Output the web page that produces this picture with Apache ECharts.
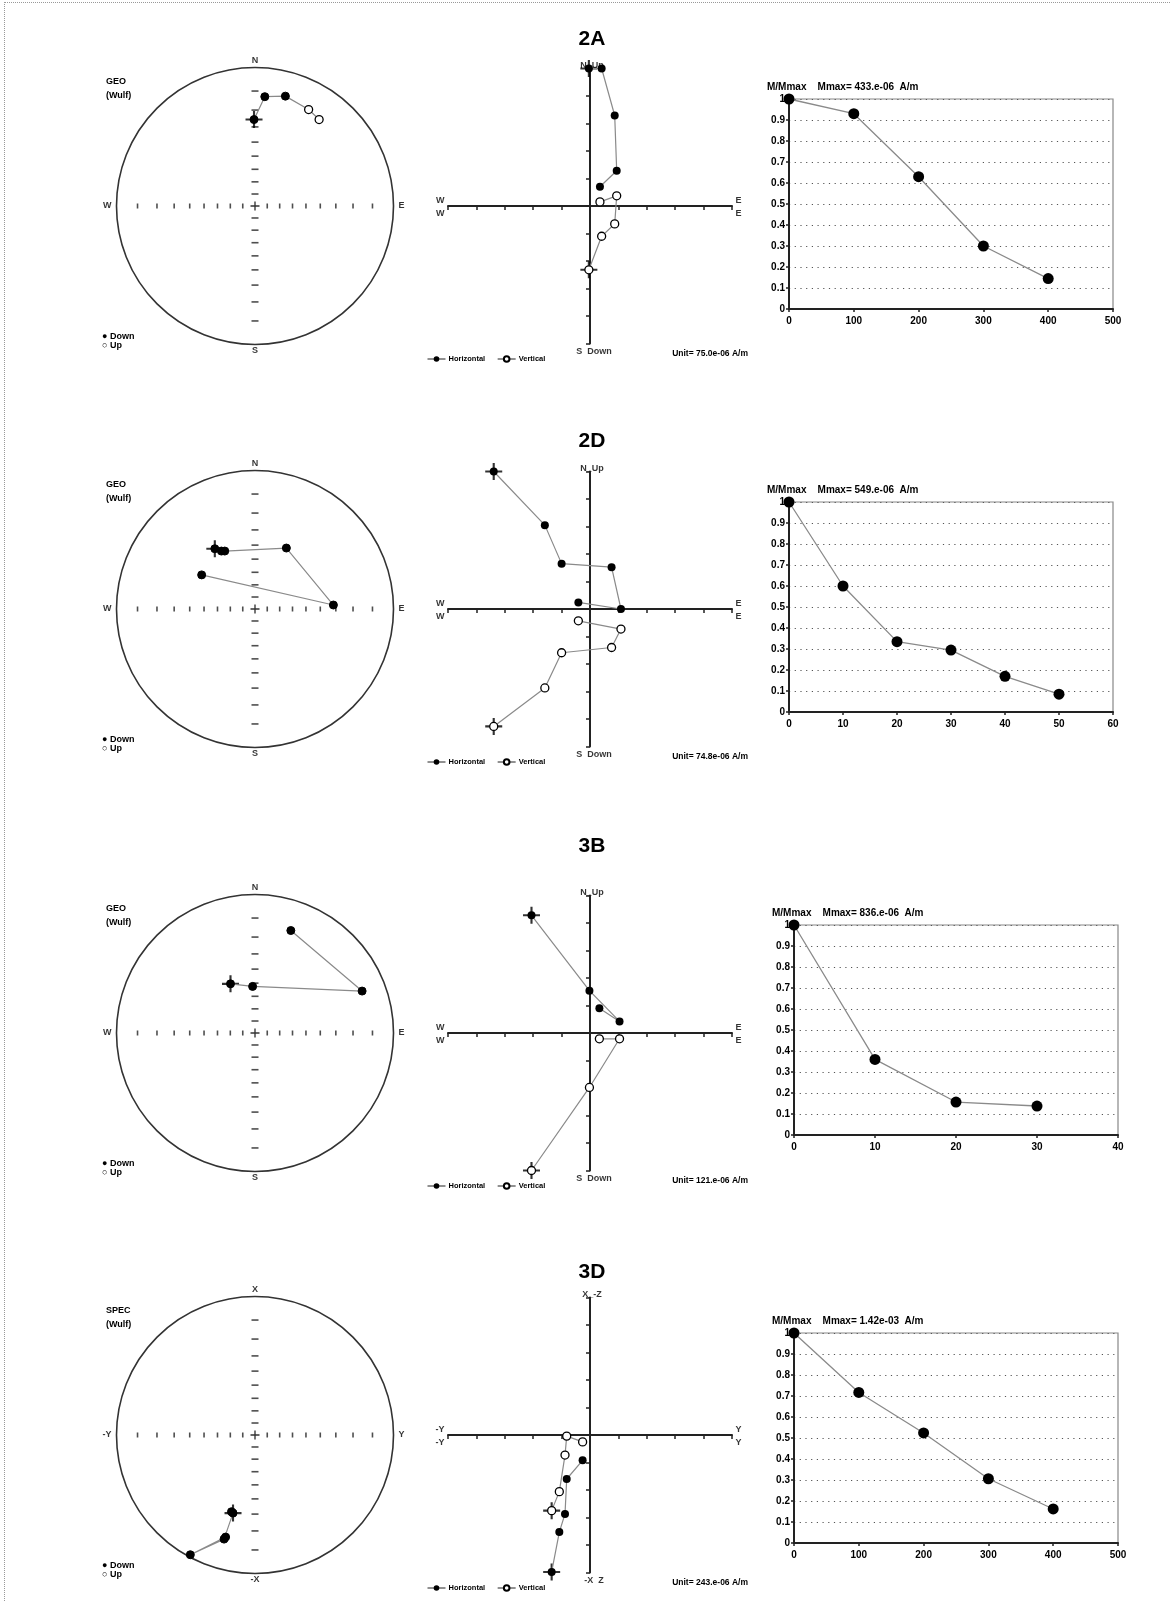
<!DOCTYPE html>
<html>
<head>
<meta charset="utf-8">
<script src="https://cdn.jsdelivr.net/npm/echarts@6/dist/echarts.min.js"></script>
<style>
  html, body { margin: 0; padding: 0; background: #fff; }
  #main { width: 1171px; height: 1602px; }
  #edge { position: absolute; left: 4px; top: 2px; width: 1167px; height: 1600px;
          border-left: 1px dotted #999; border-top: 1px dotted #999; pointer-events: none; }
</style>
</head>
<body>
<div id="main"></div>
<div id="edge"></div>
<script>
// ---- labels ----
const sampleNames = ['2A', '2D', '3B', '3D'];
const frameNames = ['GEO', 'GEO', 'GEO', 'SPEC'];
const netAxisNames = [['N', 'S', 'W', 'E'], ['N', 'S', 'W', 'E'], ['N', 'S', 'W', 'E'], ['X', '-X', '-Y', 'Y']];
const zijAxisNames = [['N_Up', 'S  Down', 'W', 'E'], ['N_Up', 'S  Down', 'W', 'E'], ['N_Up', 'S  Down', 'W', 'E'], ['X_-Z', '-X  Z', '-Y', 'Y']];
const unitLabels = ['Unit= 75.0e-06 A/m', 'Unit= 74.8e-06 A/m', 'Unit= 121.e-06 A/m', 'Unit= 243.e-06 A/m'];
const mmaxLabels = ['Mmax= 433.e-06  A/m', 'Mmax= 549.e-06  A/m', 'Mmax= 836.e-06  A/m', 'Mmax= 1.42e-03  A/m'];
const netTickInc = [10, 20, 30, 40, 50, 60, 70, 80];

// ---- stereonet points (Wulff projection, net radius = 1) ----
const net2A_x = [-0.007, 0.070, 0.217, 0.383, 0.458];
const net2A_y = [0.631, 0.798, 0.802, 0.704, 0.631];
const net2A_down = [1, 1, 1, 0, 0];
const net2D_x = [-0.287, -0.240, -0.216, 0.224, 0.560, -0.381];
const net2D_y = [0.440, 0.423, 0.423, 0.445, 0.029, 0.249];
const net2D_down = [1, 1, 1, 1, 1, 1];
const net3B_x = [-0.175, -0.017, 0.765, 0.256];
const net3B_y = [0.359, 0.340, 0.306, 0.748];
const net3B_down = [1, 1, 1, 1];
const net3D_x = [-0.157, -0.168, -0.221, -0.462, -0.210];
const net3D_y = [-0.570, -0.560, -0.760, -0.874, -0.745];
const net3D_down = [1, 1, 1, 1, 1];

// ---- Zijderveld (units of the plot unit) ----
const zij2A_e = [-0.04, 0.41, 0.87, 0.94, 0.35];
const zij2A_n = [5.0, 5.0, 3.29, 1.28, 0.70];
const zij2A_up = [-2.32, -1.10, -0.65, 0.37, 0.15];
const zij2D_e = [-3.39, -1.59, -1.00, 0.76, 1.09, -0.41];
const zij2D_n = [5.0, 3.05, 1.65, 1.52, 0.0, 0.24];
const zij2D_up = [-4.27, -2.87, -1.59, -1.40, -0.73, -0.43];
const zij3B_e = [-2.06, -0.02, 1.04, 0.33];
const zij3B_n = [4.28, 1.54, 0.42, 0.90];
const zij3B_up = [-5.0, -1.98, -0.21, -0.21];
const zij3D_y = [-1.35, -1.08, -0.88, -0.82, -0.26];
const zij3D_x = [-4.98, -3.53, -2.87, -1.60, -0.92];
const zij3D_mz = [-2.75, -2.06, -0.73, -0.04, -0.25];

// ---- demagnetisation curves ----
const demag2A_step = [0, 100, 200, 300, 400];
const demag2A_m = [1.0, 0.93, 0.63, 0.30, 0.145];
const demag2D_step = [0, 10, 20, 30, 40, 50];
const demag2D_m = [1.0, 0.60, 0.335, 0.295, 0.17, 0.085];
const demag3B_step = [0, 10, 20, 30];
const demag3B_m = [1.0, 0.36, 0.157, 0.138];
const demag3D_step = [0, 100, 200, 300, 400];
const demag3D_m = [1.0, 0.717, 0.524, 0.306, 0.162];
const demagMax = [500, 60, 40, 500];
const demagInterval = [100, 10, 10, 100];

// ---- layout ----
const rowC = [206, 609, 1033, 1435];
const headY = [39, 441, 846, 1272];
const demagTop = [99, 502, 925, 1333];
const demagLeft = [789, 789, 794, 794];

const netX = [net2A_x, net2D_x, net3B_x, net3D_x];
const netY = [net2A_y, net2D_y, net3B_y, net3D_y];
const netDown = [net2A_down, net2D_down, net3B_down, net3D_down];
const zijH = [zij2A_e, zij2D_e, zij3B_e, zij3D_y];
const zijV1 = [zij2A_n, zij2D_n, zij3B_n, zij3D_x];
const zijV2 = [zij2A_up, zij2D_up, zij3B_up, zij3D_mz];
const demagStep = [demag2A_step, demag2D_step, demag3B_step, demag3D_step];
const demagM = [demag2A_m, demag2D_m, demag3B_m, demag3D_m];

const FONT = '"Liberation Sans", Arial, sans-serif';
const PLUS = 'path://M7,0H9V7H16V9H9V16H7V9H0V7H7Z';
const SMALLPLUS = 'path://M3.4,0H4.6V3.4H8V4.6H4.6V8H3.4V4.6H0V3.4H3.4Z';
const smallText = { fontSize: 9, fontWeight: 'bold', color: '#000', fontFamily: FONT };

const chart = echarts.init(document.getElementById('main'), null, { renderer: 'canvas' });

const grid = [], xAxis = [], yAxis = [], series = [], legend = [], graphic = [];
const hidden = { show: false };

function pairs(xs, ys) { return xs.map((x, k) => [x, ys[k]]); }
function labelPoint(value, text, position, offset) {
  return { value: value, label: { show: true, formatter: text, position: position, offset: offset || [0, 0], distance: 3, ...smallText } };
}
function labelSeries(idx, data) {
  return { type: 'scatter', xAxisIndex: idx, yAxisIndex: idx, symbolSize: 1, silent: true,
           itemStyle: { color: 'transparent' }, data: data, z: 5 };
}

for (let i = 0; i < 4; i++) {
  const c = rowC[i];
  const gN = 3 * i, gZ = 3 * i + 1, gD = 3 * i + 2;

  // ---------- stereonet ----------
  grid.push({ left: 115, top: c - 137, width: 280, height: 274 });
  xAxis.push({ gridIndex: gN, type: 'value', min: -1, max: 1, show: false });
  yAxis.push({ gridIndex: gN, type: 'value', min: -1, max: 1, show: false });

  series.push({
    type: 'custom', coordinateSystem: 'cartesian2d', xAxisIndex: gN, yAxisIndex: gN, silent: true,
    data: [[0, 0]],
    renderItem: function (params, api) {
      const p = api.coord([0, 0]);
      const s = api.size([1, 1]);
      return { type: 'circle', shape: { cx: p[0], cy: p[1], r: (s[0] + s[1]) / 2 },
               style: { fill: 'none', stroke: '#333', lineWidth: 1.6 } };
    }
  });
  const tickR = netTickInc.map(inc => Math.tan((90 - inc) / 2 * Math.PI / 180));
  series.push({
    type: 'scatter', xAxisIndex: gN, yAxisIndex: gN, silent: true, symbol: 'rect', symbolSize: [1.6, 5],
    itemStyle: { color: '#222' },
    data: tickR.map(r => [r, 0]).concat(tickR.map(r => [-r, 0]))
  });
  series.push({
    type: 'scatter', xAxisIndex: gN, yAxisIndex: gN, silent: true, symbol: 'rect', symbolSize: [7, 1.6],
    itemStyle: { color: '#222' },
    data: tickR.map(r => [0, r]).concat(tickR.map(r => [0, -r]))
  });
  series.push({
    type: 'scatter', xAxisIndex: gN, yAxisIndex: gN, silent: true, symbol: SMALLPLUS, symbolSize: 9,
    itemStyle: { color: '#000' }, data: [[0, 0]]
  });
  const nn = netAxisNames[i];
  series.push(labelSeries(gN, [
    labelPoint([0, 1], nn[0], 'top'),
    labelPoint([0, -1], nn[1], 'bottom'),
    labelPoint([-1, 0], nn[2], 'left'),
    labelPoint([1, 0], nn[3], 'right')
  ]));
  series.push({
    type: 'scatter', xAxisIndex: gN, yAxisIndex: gN, silent: true, symbol: PLUS, symbolSize: 17,
    itemStyle: { color: '#000' }, data: [[netX[i][0], netY[i][0]]]
  });
  series.push({
    type: 'line', name: 'net' + sampleNames[i], xAxisIndex: gN, yAxisIndex: gN,
    symbol: 'circle', symbolSize: 8, lineStyle: { color: '#8a8a8a', width: 1.2 },
    data: netX[i].map((x, k) => ({
      value: [x, netY[i][k]],
      itemStyle: netDown[i][k] ? { color: '#000', borderColor: '#000' }
                                : { color: '#fff', borderColor: '#000', borderWidth: 1.3 }
    })),
    z: 6
  });

  // ---------- Zijderveld ----------
  grid.push({ left: 448, top: c - 137.5, width: 284, height: 275 });
  const zAxis = {
    type: 'value', min: -5, max: 5, interval: 1,
    axisLine: { onZero: true, lineStyle: { color: '#222', width: 2 } },
    axisTick: { show: true, length: 4, lineStyle: { color: '#222', width: 1.5 } },
    axisLabel: hidden, splitLine: hidden
  };
  xAxis.push({ gridIndex: gZ, ...zAxis });
  yAxis.push({ gridIndex: gZ, ...zAxis });
  const zn = zijAxisNames[i];
  series.push(labelSeries(gZ, [
    labelPoint([0, 5], zn[0], 'inside', [2, -3]),
    labelPoint([0, -5], zn[1], 'bottom', [4, 0]),
    labelPoint([-5, 0], zn[2], 'left', [0, -5]),
    labelPoint([-5, 0], zn[2], 'left', [0, 8]),
    labelPoint([5, 0], zn[3], 'right', [0, -5]),
    labelPoint([5, 0], zn[3], 'right', [0, 8])
  ]));
  series.push({
    type: 'scatter', xAxisIndex: gZ, yAxisIndex: gZ, silent: true, symbol: PLUS, symbolSize: 17,
    itemStyle: { color: '#000' },
    data: [[zijH[i][0], zijV1[i][0]], [zijH[i][0], zijV2[i][0]]]
  });
  series.push({
    type: 'line', name: 'Horizontal', xAxisIndex: gZ, yAxisIndex: gZ,
    symbol: 'circle', symbolSize: 8, itemStyle: { color: '#000' },
    lineStyle: { color: '#8a8a8a', width: 1.2 },
    data: pairs(zijH[i], zijV1[i]), z: 6
  });
  series.push({
    type: 'line', name: 'Vertical', xAxisIndex: gZ, yAxisIndex: gZ,
    symbol: 'circle', symbolSize: 8, itemStyle: { color: '#fff', borderColor: '#000', borderWidth: 1.3 },
    lineStyle: { color: '#8a8a8a', width: 1.2 },
    data: pairs(zijH[i], zijV2[i]), z: 6
  });
  legend.push({
    data: ['Horizontal', 'Vertical'], left: 422, top: c + 144, itemWidth: 18, itemHeight: 7, itemGap: 12,
    selectedMode: false, lineStyle: { color: '#222', width: 1 },
    textStyle: { ...smallText, fontSize: 7.5, padding: [0, 0, 0, -2] }
  });

  // ---------- demagnetisation ----------
  grid.push({ left: demagLeft[i], top: demagTop[i], width: 324, height: 210,
              show: true, borderColor: '#888', borderWidth: 1.2 });
  xAxis.push({
    gridIndex: gD, type: 'value', min: 0, max: demagMax[i], interval: demagInterval[i],
    axisLine: { lineStyle: { color: '#222', width: 2 } },
    axisTick: { show: true, length: 3, lineStyle: { color: '#222', width: 1.5 } },
    axisLabel: { margin: 7, fontSize: 10, fontWeight: 'bold', color: '#000', fontFamily: FONT },
    splitLine: hidden
  });
  yAxis.push({
    gridIndex: gD, type: 'value', min: 0, max: 1, interval: 0.1,
    axisLine: { show: true, lineStyle: { color: '#222', width: 2 } },
    axisTick: { show: true, length: 3, lineStyle: { color: '#222', width: 1.5 } },
    axisLabel: { margin: 4, fontSize: 10, fontWeight: 'bold', color: '#000', fontFamily: FONT },
    splitLine: { show: true, lineStyle: { color: '#555', width: 1, type: [1.2, 4.5] } }
  });
  series.push({
    type: 'line', name: 'M/Mmax ' + sampleNames[i], xAxisIndex: gD, yAxisIndex: gD,
    symbol: 'circle', symbolSize: 11, itemStyle: { color: '#000' },
    lineStyle: { color: '#8a8a8a', width: 1.3 },
    data: pairs(demagStep[i], demagM[i]), z: 6
  });

  // ---------- texts ----------
  graphic.push({ type: 'text', x: 592, y: headY[i],
    style: { text: sampleNames[i], font: 'bold 21px ' + FONT, fill: '#000',
             align: 'center', verticalAlign: 'middle', textAlign: 'center', textVerticalAlign: 'middle' } });
  graphic.push({ type: 'text', x: 106, y: c - 131,
    style: { text: frameNames[i] + '\n(Wulf)', font: 'bold 9px ' + FONT, lineHeight: 14, fill: '#000' } });
  graphic.push({ type: 'text', x: 102, y: c + 126,
    style: { text: '\u25CF Down\n\u25CB Up', font: 'bold 9px ' + FONT, lineHeight: 9, fill: '#000' } });
  graphic.push({ type: 'text', x: demagLeft[i] - 22, y: demagTop[i] - 17,
    style: { text: 'M/Mmax    ' + mmaxLabels[i], font: 'bold 10px ' + FONT, fill: '#000' } });
  graphic.push({ type: 'text', x: 748, y: c + 148,
    style: { text: unitLabels[i], font: 'bold 8.5px ' + FONT, fill: '#000',
             align: 'right', verticalAlign: 'middle', textAlign: 'right', textVerticalAlign: 'middle' } });
}

chart.setOption({
  backgroundColor: '#fff',
  animation: false,
  grid: grid,
  xAxis: xAxis,
  yAxis: yAxis,
  legend: legend,
  graphic: graphic,
  series: series
});
</script>
</body>
</html>
